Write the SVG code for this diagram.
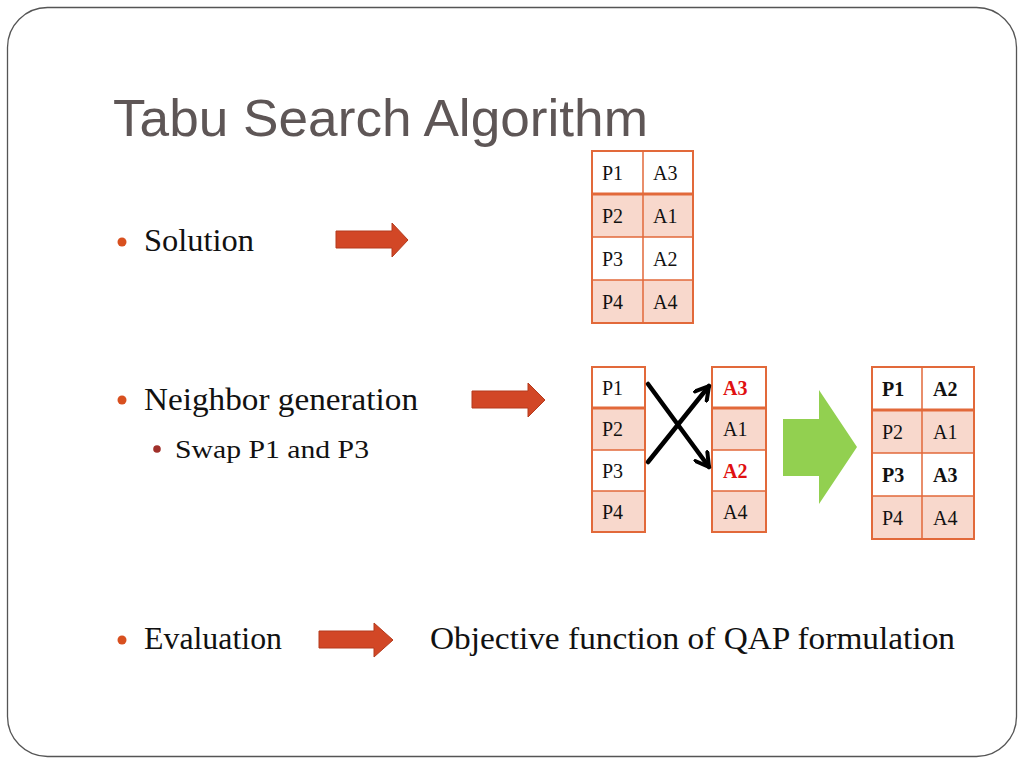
<svg xmlns="http://www.w3.org/2000/svg" width="1024" height="768" viewBox="0 0 1024 768">
<defs>
<style>
.title{font-family:"Liberation Sans",Arial,sans-serif;font-size:52px;fill:#5E5656}
.body{font-family:"Liberation Serif","Times New Roman",serif;font-size:31px;fill:#111}
.sub{font-family:"Liberation Serif","Times New Roman",serif;font-size:26px;fill:#111}
.cell{font-family:"Liberation Serif","Times New Roman",serif;font-size:20px;fill:#111}
.bold{font-weight:bold}
.red{fill:#E01010}
.pink{fill:#F8D8CC}
.grid{fill:none;stroke:#E2693A;stroke-width:2}
.hdr{stroke:#E2693A;stroke-width:3}
.ln{stroke:#E2693A;stroke-width:1.5}
.blockarrow{fill:#D24726;stroke:#B43A1C;stroke-width:1}
.bul{fill:#D8501F}
.subbul{fill:#A0302A}
.cross{stroke:#000;stroke-width:4.5;fill:none;stroke-linecap:round}
</style>
<marker id="vhead" viewBox="0 0 18 18" refX="15" refY="9" markerWidth="18" markerHeight="18" markerUnits="userSpaceOnUse" orient="auto">
<path d="M2,1.5 L15,9 L2,16.5" fill="none" stroke="#000" stroke-width="4" stroke-linecap="round" stroke-linejoin="round"/>
</marker>
</defs>
<rect width="1024" height="768" fill="#fff"/>
<rect x="7.5" y="7.5" width="1009" height="749" rx="40" ry="40" fill="none" stroke="#555" stroke-width="1.3"/>

<g id="title"><text class="title" x="113" y="136" textLength="535" lengthAdjust="spacingAndGlyphs">Tabu Search Algorithm</text></g>

<g id="bullet-solution">
<circle class="bul" cx="122" cy="242" r="4.5"/>
<text class="body" x="144" y="251" textLength="110" lengthAdjust="spacingAndGlyphs">Solution</text>
</g>
<g id="bullet-neighbor">
<circle class="bul" cx="122" cy="400" r="4.5"/>
<text class="body" x="144" y="410" textLength="274" lengthAdjust="spacingAndGlyphs">Neighbor generation</text>
<circle class="subbul" cx="157" cy="449" r="3.8"/>
<text class="sub" x="175" y="458" textLength="194" lengthAdjust="spacingAndGlyphs">Swap P1 and P3</text>
</g>
<g id="bullet-evaluation">
<circle class="bul" cx="122" cy="640" r="4.5"/>
<text class="body" x="144" y="649" textLength="138" lengthAdjust="spacingAndGlyphs">Evaluation</text>
</g>
<g id="objective"><text class="body" x="430" y="649" textLength="525" lengthAdjust="spacingAndGlyphs">Objective function of QAP formulation</text></g>

<g id="arrow-solution"><path class="blockarrow" d="M336,231 H392 V223 L408,240 L392,257 V248 H336 Z"/></g>
<g id="arrow-neighbor"><path class="blockarrow" d="M472,391 H528 V383 L545,400 L528,417 V408 H472 Z"/></g>
<g id="arrow-evaluation"><path class="blockarrow" d="M319,631 H374 V623 L393,640 L374,657 V648 H319 Z"/></g>
<g id="arrow-green"><path d="M783,419 H819 V390 L857,447 L819,504 V476 H783 Z" fill="#92D050"/></g>

<g id="table-solution">
<rect x="592" y="151" width="101" height="172" fill="#fff"/>
<rect class="pink" x="592" y="194" width="101" height="43"/>
<rect class="pink" x="592" y="280" width="101" height="43"/>
<line class="ln" x1="643" y1="151" x2="643" y2="323"/>
<line class="hdr" x1="592" y1="194" x2="693" y2="194"/>
<line class="ln" x1="592" y1="237" x2="693" y2="237"/>
<line class="ln" x1="592" y1="280" x2="693" y2="280"/>
<rect class="grid" x="592" y="151" width="101" height="172"/>
<text class="cell" x="602" y="180">P1</text><text class="cell" x="653" y="180">A3</text>
<text class="cell" x="602" y="223">P2</text><text class="cell" x="653" y="223">A1</text>
<text class="cell" x="602" y="266">P3</text><text class="cell" x="653" y="266">A2</text>
<text class="cell" x="602" y="309">P4</text><text class="cell" x="653" y="309">A4</text>
</g>

<g id="table-p">
<rect x="592" y="367" width="53" height="165" fill="#fff"/>
<rect class="pink" x="592" y="408" width="53" height="42"/>
<rect class="pink" x="592" y="491" width="53" height="41"/>
<line class="hdr" x1="592" y1="408" x2="645" y2="408"/>
<line class="ln" x1="592" y1="450" x2="645" y2="450"/>
<line class="ln" x1="592" y1="491" x2="645" y2="491"/>
<rect class="grid" x="592" y="367" width="53" height="165"/>
<text class="cell" x="602" y="395">P1</text>
<text class="cell" x="602" y="436">P2</text>
<text class="cell" x="602" y="478">P3</text>
<text class="cell" x="602" y="519">P4</text>
</g>

<g id="table-a">
<rect x="712" y="367" width="54" height="165" fill="#fff"/>
<rect class="pink" x="712" y="408" width="54" height="42"/>
<rect class="pink" x="712" y="491" width="54" height="41"/>
<line class="hdr" x1="712" y1="408" x2="766" y2="408"/>
<line class="ln" x1="712" y1="450" x2="766" y2="450"/>
<line class="ln" x1="712" y1="491" x2="766" y2="491"/>
<rect class="grid" x="712" y="367" width="54" height="165"/>
<text class="cell bold red" x="723" y="395">A3</text>
<text class="cell" x="723" y="436">A1</text>
<text class="cell bold red" x="723" y="478">A2</text>
<text class="cell" x="723" y="519">A4</text>
</g>

<g id="table-result">
<rect x="872" y="367" width="102" height="172" fill="#fff"/>
<rect class="pink" x="872" y="410" width="102" height="43"/>
<rect class="pink" x="872" y="496" width="102" height="43"/>
<line class="ln" x1="922" y1="367" x2="922" y2="539"/>
<line class="hdr" x1="872" y1="410" x2="974" y2="410"/>
<line class="ln" x1="872" y1="453" x2="974" y2="453"/>
<line class="ln" x1="872" y1="496" x2="974" y2="496"/>
<rect class="grid" x="872" y="367" width="102" height="172"/>
<text class="cell bold" x="882" y="396">P1</text><text class="cell bold" x="933" y="396">A2</text>
<text class="cell" x="882" y="439">P2</text><text class="cell" x="933" y="439">A1</text>
<text class="cell bold" x="882" y="482">P3</text><text class="cell bold" x="933" y="482">A3</text>
<text class="cell" x="882" y="525">P4</text><text class="cell" x="933" y="525">A4</text>
</g>

<g id="connectors">
<line class="cross" x1="648" y1="384" x2="709" y2="467" marker-end="url(#vhead)"/>
<line class="cross" x1="648" y1="462" x2="709" y2="386" marker-end="url(#vhead)"/>
</g>
</svg>
